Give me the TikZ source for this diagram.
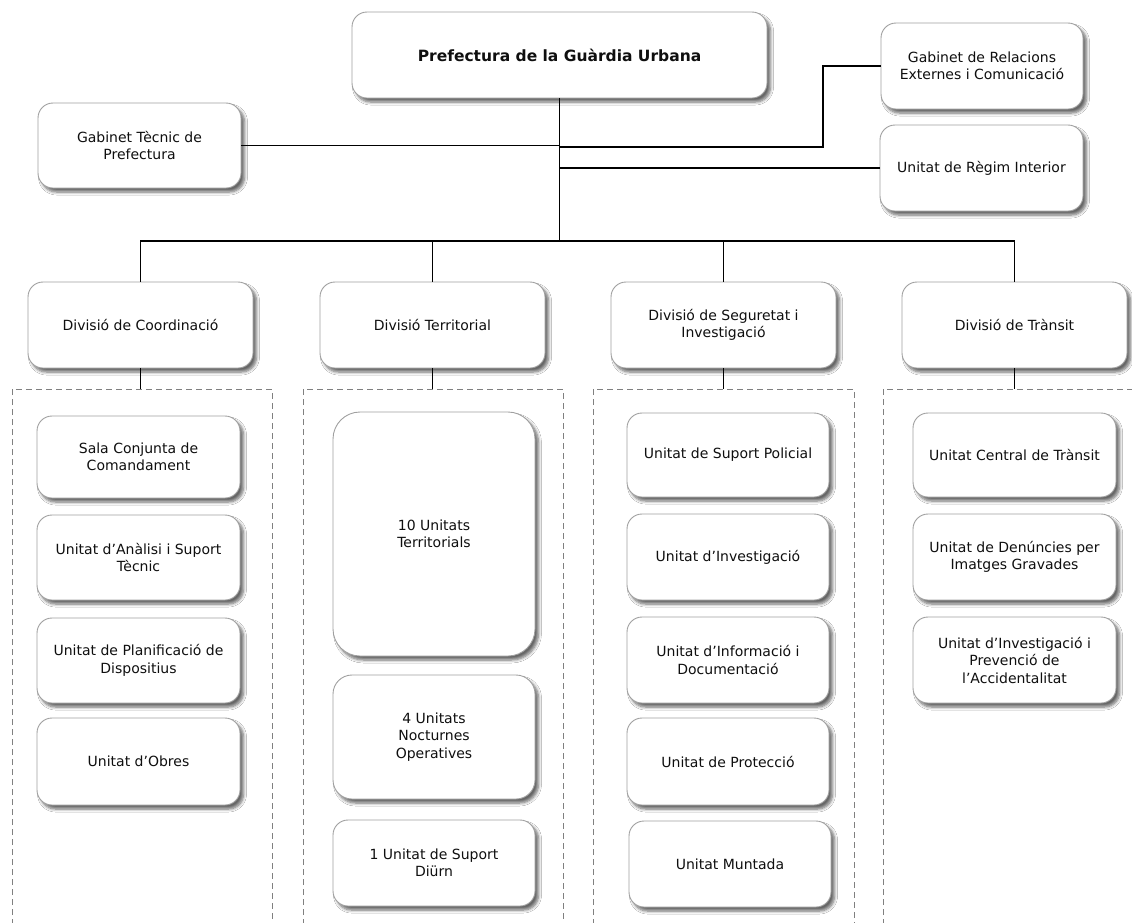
\documentclass[tikz,border=0pt]{standalone}
\usepackage{fontspec}
\setmainfont{DejaVu Sans}
\usetikzlibrary{shadows.blur}
\definecolor{bordergray}{RGB}{160,160,160}
\definecolor{framegray}{RGB}{128,128,128}
\definecolor{txt}{RGB}{15,15,15}
\tikzset{
  unit/.style={draw=bordergray, line width=0.9pt, fill=white, rounded corners=15pt,
    align=center, text=txt, inner sep=2pt,
    font=\fontsize{14}{17.5}\selectfont,
    blur shadow={shadow xshift=3.5pt, shadow yshift=-4pt, shadow blur radius=3pt, shadow blur steps=6, shadow opacity=60}},
  link/.style={draw=black, line width=1.4pt},
  frame/.style={draw=framegray, line width=0.9pt, dash pattern=on 6pt off 4pt}
}
\begin{document}
\begin{tikzpicture}[x=1pt,y=-1pt]
\clip (0,0) rectangle (1132,922);
\useasboundingbox (0,0) rectangle (1132,922);
\fill[white] (0,0) rectangle (1132,922);

% dashed frames
\draw[frame] (12,925) -- (12,389) -- (272,389) -- (272,925);
\draw[frame] (303,925) -- (303,389) -- (563,389) -- (563,925);
\draw[frame] (593,925) -- (593,389) -- (854,389) -- (854,925);
\draw[frame] (883,925) -- (883,389) -- (1140,389);

% top level
\node[unit, minimum width=415pt, minimum height=86pt, font=\fontsize{15.5}{17}\selectfont\bfseries] (pref) at (559.5,55) {Prefectura de la Guàrdia Urbana};
\node[unit, minimum width=203pt, minimum height=85pt] (gtec) at (139.5,145.5) {Gabinet Tècnic de\\Prefectura};
\node[unit, minimum width=202pt, minimum height=86pt] (grel) at (982,66) {Gabinet de Relacions\\Externes i Comunicació};
\node[unit, minimum width=203pt, minimum height=86pt] (ureg) at (981.5,168) {Unitat de Règim Interior};

% divisions
\node[unit, minimum width=225pt, minimum height=86pt] (div1) at (140.5,325) {Divisió de Coordinació};
\node[unit, minimum width=225pt, minimum height=86pt] (div2) at (432.5,325) {Divisió Territorial};
\node[unit, minimum width=225pt, minimum height=86pt] (div3) at (723.5,325) {Divisió de Seguretat i\\Investigació};
\node[unit, minimum width=225pt, minimum height=86pt] (div4) at (1014.5,325) {Divisió de Trànsit};

% coordinacio
\node[unit, minimum width=203pt, minimum height=82pt] (c1) at (138.5,457) {Sala Conjunta de\\Comandament};
\node[unit, minimum width=203pt, minimum height=85pt] (c2) at (138.5,557.5) {Unitat d’Anàlisi i Suport\\Tècnic};
\node[unit, minimum width=203pt, minimum height=85pt] (c3) at (138.5,660.5) {Unitat de Planificació de\\Dispositius};
\node[unit, minimum width=203pt, minimum height=87pt] (c4) at (138.5,761.5) {Unitat d’Obres};

% territorial
\node[unit, minimum width=202pt, minimum height=244pt, rounded corners=27pt] (t1) at (434,534) {10 Unitats\\Territorials};
\node[unit, minimum width=202pt, minimum height=124pt, rounded corners=19pt] (t2) at (434,737) {4 Unitats\\Nocturnes\\Operatives};
\node[unit, minimum width=202pt, minimum height=86pt] (t3) at (434,863) {1 Unitat de Suport\\Diürn};

% seguretat
\node[unit, minimum width=202pt, minimum height=84pt] (s1) at (728,455) {Unitat de Suport Policial};
\node[unit, minimum width=202pt, minimum height=86pt] (s2) at (728,557) {Unitat d’Investigació};
\node[unit, minimum width=202pt, minimum height=86pt] (s3) at (728,660) {Unitat d’Informació i\\Documentació};
\node[unit, minimum width=202pt, minimum height=87pt] (s4) at (728,761.5) {Unitat de Protecció};
\node[unit, minimum width=202pt, minimum height=86pt] (s5) at (730,864) {Unitat Muntada};

% transit
\node[unit, minimum width=203pt, minimum height=84pt] (r1) at (1014.5,455) {Unitat Central de Trànsit};
\node[unit, minimum width=203pt, minimum height=86pt] (r2) at (1014.5,557) {Unitat de Denúncies per\\Imatges Gravades};
\node[unit, minimum width=203pt, minimum height=86pt] (r3) at (1014.5,660) {Unitat d’Investigació i\\Prevenció de\\l’Accidentalitat};

% connectors
\coordinate (bar) at (pref.south |- 0,241);
\coordinate (kR) at (823,147);
\draw[link] (pref.south) -- (bar);
\draw[link] (gtec.east) -- (gtec.east -| pref.south);
\draw[link] (grel.west) -| (kR) -- (kR -| pref.south);
\draw[link] (ureg.west) -- (ureg.west -| pref.south);
\draw[link] (div1.north) |- (bar);
\draw[link] (div2.north) |- (bar);
\draw[link] (div3.north) |- (bar);
\draw[link] (div4.north) |- (bar);
\coordinate (f1) at (div1.south |- 0,389);
\coordinate (f2) at (div2.south |- 0,389);
\coordinate (f3) at (div3.south |- 0,389);
\coordinate (f4) at (div4.south |- 0,389);
\draw[link] (div1.south) -- (f1);
\draw[link] (div2.south) -- (f2);
\draw[link] (div3.south) -- (f3);
\draw[link] (div4.south) -- (f4);
\end{tikzpicture}
\end{document}
